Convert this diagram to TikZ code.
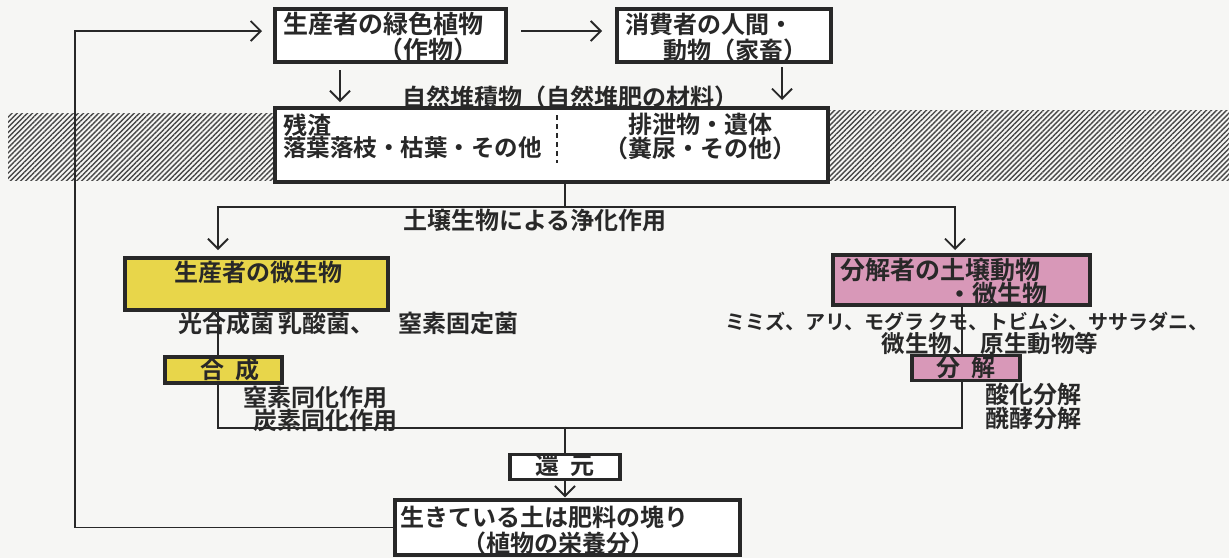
\documentclass[tikz,border=0pt]{standalone}
\usepackage{fontspec}
\setmainfont{Noto Sans CJK JP}[BoldFont={Noto Sans CJK JP Bold}]
\usetikzlibrary{arrows.meta,patterns.meta}
\definecolor{ylw}{RGB}{232,214,74}
\definecolor{pnk}{RGB}{216,152,184}
\definecolor{paper}{RGB}{246,246,244}
\definecolor{ink}{RGB}{40,40,40}
\pgfdeclarelayer{bg}
\pgfdeclarelayer{lines}
\pgfsetlayers{bg,lines,main}
\tikzset{
  box/.style={draw=ink, line width=3.5pt, rectangle, inner sep=0pt},
  txt/.style={inner sep=0pt, font=\bfseries\fontsize{24}{27}\selectfont, text=ink},
  big/.style={inner sep=0pt, font=\bfseries\fontsize{25}{28}\selectfont, text=ink},
  mid/.style={inner sep=0pt, font=\bfseries\fontsize{23.5}{27}\selectfont, text=ink},
  small/.style={inner sep=0pt, font=\bfseries\fontsize{20}{24}\selectfont, text=ink},
  conn/.style={draw=ink, line width=1.8pt},
  arr/.style={conn, -{Straight Barb[length=10pt,width=20pt,line width=1.8pt]}},
  hatch/.style={pattern={Lines[angle=45,distance=3.6pt,line width=1.4pt]}, pattern color=ink!85}
}
\begin{document}
\begin{tikzpicture}[x=1pt,y=-1pt]
\begin{pgfonlayer}{bg}
\fill[paper] (0,0) rectangle (1229,558);
\fill[hatch] (8,113) rectangle (276,180);
\fill[hatch] (826,110) rectangle (1229,180);
\end{pgfonlayer}
\useasboundingbox (0,0) rectangle (1229,558);

% boxes
\node[box, fill=white, minimum width=231pt, minimum height=53pt] (boxA) at (390.5,35.5) {};
\node[big, anchor=west] (a1) at (283,24) {生産者の緑色植物};
\node[big] (a2) at (428,50) {（作物）};

\node[box, fill=white, minimum width=214pt, minimum height=53pt] (boxB) at (724,35.5) {};
\node[txt, anchor=west] (b1) at (625,24) {消費者の人間・};
\node[txt, anchor=east] (b2) at (808,50) {動物（家畜）};

\node[txt] (lblC) at (570,97) {自然堆積物（自然堆肥の材料）};

\node[box, fill=white, minimum width=553pt, minimum height=74pt] (boxC) at (551.5,145) {};
\node[txt, anchor=west] (c1) at (283,125) {残渣};
\node[mid, anchor=west] (c2) at (283,148) {落葉落枝・枯葉・その他};
\node[txt] (c3) at (700,124) {排泄物・遺体};
\node[txt] (c4) at (700,148) {（糞尿・その他）};
\coordinate (dT) at (557,115);
\coordinate (dB) at (557,163);
\draw[ink, line width=2pt, dash pattern=on 5pt off 4pt] (dT) -- (dB);

\node[txt] (lblS) at (535,220) {土壌生物による浄化作用};

\node[box, fill=ylw, minimum width=263pt, minimum height=52pt] (boxD) at (256.5,284) {};
\node[txt] (d1) at (258,272) {生産者の微生物};
\node[txt, anchor=west] (d2) at (178,323) {光合成菌\,乳酸菌、\quad 窒素固定菌};
\node[box, fill=ylw, minimum width=117pt, minimum height=26pt] (boxG) at (223.5,370) {};
\node[txt] (g1) at (230,369) {合\ \ 成};
\node[txt, anchor=west] (g2) at (243,397) {窒素同化作用};
\node[txt, anchor=west] (g3) at (253,420) {炭素同化作用};

\node[box, fill=pnk, minimum width=257pt, minimum height=50pt] (boxE) at (961.5,280) {};
\node[big] (e1) at (940,270) {分解者の土壌動物};
\node[big, anchor=east] (e2) at (1048,294) {・微生物};
\node[small] (e3) at (967,322) {ミミズ、アリ、モグラ クモ、トビムシ、ササラダニ、};
\node[mid] (e4) at (990,344) {微生物、\ 原生動物等};
\node[box, fill=pnk, minimum width=108pt, minimum height=25pt] (boxK) at (966,368) {};
\node[txt] (k1) at (966,367) {分\ \ 解};
\node[txt, anchor=west] (k2) at (985,394) {酸化分解};
\node[txt, anchor=west] (k3) at (985,418) {醗酵分解};

\node[box, fill=white, minimum width=110pt, minimum height=25pt] (boxR) at (565,467) {};
\node[txt] (r1) at (565,466) {還\ \ 元};

\node[box, fill=white, minimum width=345pt, minimum height=55pt] (boxF) at (567.5,527.5) {};
\node[txt, anchor=west] (f1) at (400,517) {生きている土は肥料の塊り};
\node[txt] (f2) at (558,543) {（植物の栄養分）};

% coordinates for connectors
\coordinate (abS) at (521,31);
\coordinate (abE) at (602,31);
\coordinate (acS) at (340,70);
\coordinate (acE) at (340,102);
\coordinate (bcS) at (782,67);
\coordinate (bcE) at (782,100);
\coordinate (split) at (565,207);
\coordinate (dIn) at (218,250);
\coordinate (eIn) at (955,250);
\coordinate (lx) at (218,428);
\coordinate (rx) at (962,428);
\coordinate (join) at (565,428);
\coordinate (loopT) at (75,31);
\coordinate (aIn) at (262,31);

\begin{pgfonlayer}{lines}
\draw[arr] (abS) -- (abE);
\draw[arr] (acS) -- (acE);
\draw[arr] (bcS) -- (bcE);
\draw[conn] (boxC.south -| split) -- (split);
\draw[arr] (split) -| (dIn);
\draw[arr] (split) -| (eIn);
\draw[conn] (boxD.south -| lx) -- (lx) -- (rx) -- (boxE.south -| rx);
\draw[conn] (join) -- (boxR.north -| join);
\draw[arr] (boxR.south) -- ([yshift=1pt]boxF.north -| boxR.south);
\draw[arr] (boxF.west) -| (loopT) -- (aIn);
\end{pgfonlayer}
\end{tikzpicture}
\end{document}
